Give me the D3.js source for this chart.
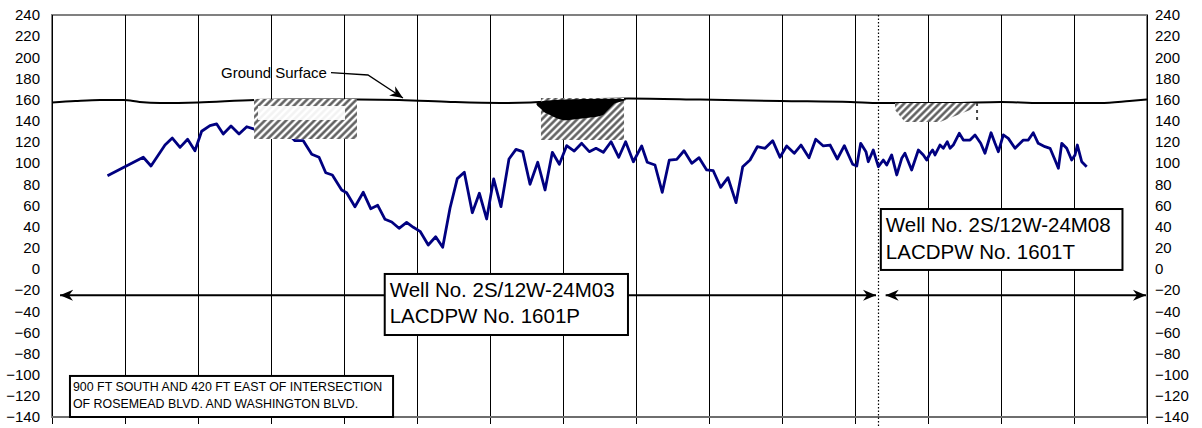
<!DOCTYPE html>
<html>
<head>
<meta charset="utf-8">
<script src="https://cdn.jsdelivr.net/npm/d3@7"></script>
<style>
  html, body { margin: 0; padding: 0; background: #fff; }
  svg { display: block; font-family: "Liberation Sans", Arial, sans-serif; }
</style>
</head>
<body>
<svg id="chart" width="1202" height="428"></svg>
<script>
// ---------------- DATA ----------------
// x in chart units (15 grid intervals of 5 units), y = elevation (ft)
const xGridTicks = d3.range(0, 76, 5);
const yTickValues = d3.range(-140, 241, 20);

const wellX = [3.8, 6.25, 6.78, 7.74, 8.24, 8.77, 9.29, 9.79, 10.25, 10.82, 11.28, 11.73, 12.26, 12.81, 13.34, 13.86,
  14.38, 14.93, 15.48, 16.1, 16.64, 17.21, 17.79, 18.29, 18.75, 19.2, 19.84, 20.18, 20.75, 21.32, 21.83, 22.31,
  22.81, 23.27, 23.77, 24.29, 24.75, 25.21, 25.77, 26.28, 26.76, 27.26, 27.76, 28.24, 28.79, 29.27, 29.77, 30.25,
  30.75, 31.3, 31.78, 32.24, 32.74, 33.27, 33.77, 34.27, 34.75, 35.25, 35.77, 36.28, 36.8, 37.26, 37.76, 38.29,
  38.82, 39.29, 39.82, 40.39, 40.77, 41.3, 41.8, 42.28, 42.79, 43.29, 43.82, 44.32, 44.84, 45.29, 45.8, 46.3,
  46.85, 47.31, 47.81, 48.31, 48.84, 49.36, 49.86, 50.32, 50.84, 51.3, 51.85, 52.31, 52.83, 53.29, 53.79, 54.27,
  54.84, 55.12, 55.39, 55.75, 55.91, 56.25, 56.6, 56.94, 57.17, 57.51, 57.86, 58.2, 58.42, 58.88, 59.34, 59.68,
  59.91, 60.14, 60.32, 60.48, 60.82, 61.05, 61.32, 61.51, 61.73, 62.14, 62.42, 62.88, 63.22, 63.61, 63.9, 64.32,
  64.59, 64.82, 65.16, 65.5, 65.96, 66.53, 66.87, 67.21, 67.55, 68.01, 68.36, 68.7, 68.93, 69.16, 69.5, 69.84,
  70.07, 70.23, 70.53, 70.87];
const wellLevel = [88, 105.5, 97.3, 117.1, 123.7, 114.9, 122.5, 111.7, 130.1, 135.4, 137, 127.5, 135.1, 127.5, 134.4, 132.2,
  134, 137, 133, 129, 121.2, 121.2, 108.3, 105.5, 90.9, 88.8, 74.6, 72, 58.8, 72.4, 56.9, 60.1,
  46.9, 44.3, 38.4, 44, 39.3, 35.5, 22.6, 30.4, 20.4, 57.3, 85.3, 91.3, 53.1, 71.5, 47.2, 85,
  58.8, 103.9, 113, 110.8, 80, 100.8, 74.6, 110.2, 98.9, 116.5, 111.4, 118.7, 110.8, 114, 110.2, 120.2,
  105.5, 120.2, 101.3, 116.2, 100.8, 98.2, 72.4, 102.9, 103.6, 111.7, 99.8, 105.1, 93.5, 92.8, 77.1, 86.2,
  62.6, 96.6, 102.9, 115.5, 114, 121.2, 105.5, 116.2, 109.3, 117.1, 105.1, 122.5, 116.2, 117.1, 103.9, 116.5,
  98.9, 97.3, 118.7, 110.8, 101.3, 112.4, 96.6, 102.9, 98.2, 107.7, 88.8, 104.5, 109.3, 93.5, 112.4, 107.7,
  102.9, 109.3, 112.4, 107.7, 117.1, 114, 120.2, 114, 117.1, 128.2, 121.8, 121.8, 126.6, 118.7, 109.3, 128.7,
  118.7, 110.8, 126.6, 123.4, 114, 121.8, 121.8, 128.7, 118.7, 115.5, 114, 102.9, 95.1, 118.7, 114, 102.9,
  107.7, 117.1, 101.3, 96.6];

const groundX = [0, 1.6, 3.3, 4.9, 6, 7.4, 10, 13.9, 17, 21, 23.8, 27.3, 30.7, 32.8, 34.8, 37.5, 39.5, 44.4, 49.9, 54.7, 56.7, 61.5, 65, 67.7, 71.8, 73.8, 75];
const groundLevel = [157.3, 158.7, 159.7, 159.7, 157.8, 156.8, 157.3, 159.7, 160.1, 160.1, 159.7, 157.8, 156.8, 157.3, 158.7, 160.6, 161.1, 160.1, 158.7, 157.8, 156.8, 156.8, 157.8, 156.8, 156.8, 158.7, 160.1];

// screened / hatched intervals
const hatchBoxes = [
  [[13.84, 160.6], [20.89, 160.6], [20.89, 122.8], [13.84, 122.8]],
  [[33.49, 161.5], [39.18, 161.5], [39.18, 121.8], [33.49, 121.8]],
  [[57.74, 156.8], [63.36, 156.8], [62.88, 150.2], [60.82, 138.9], [58.42, 138.9], [57.74, 150.2]]
];
const whiteStrip = [[14.11, 154.0], [20.07, 154.0], [20.07, 140.7], [14.11, 140.7]];
const blackBlob = [[33.63, 158.7], [39.04, 160.6], [38.49, 155.9], [38.01, 149.3], [37.53, 144.5], [35.96, 141.7], [35.0, 140.7], [34.11, 145.5], [33.56, 150.2]];
const dashedEdge = [[63.36, 156.8], [63.36, 138.0]];

const dividerX = 56.55;
const rangeArrows = [ [0.55, 56.44, -25], [57.1, 74.93, -25] ];

const groundLabel = "Ground Surface";
const groundLeader = [[19.11, 185.5], [21.64, 183.3], [24.04, 161.5]];
const groundLabelPos = [11.58, 180.4];

const wellBoxes = [
  { x1: 22.79, x2: 39.45, yTop: -4.8, yBot: -62.5, lines: ["Well No. 2S/12W-24M03", "LACDPW No. 1601P"] },
  { x1: 56.77, x2: 73.32, yTop: 56.6, yBot: -1.0, lines: ["Well No. 2S/12W-24M08", "LACDPW No. 1601T"] }
];
const locBox = { x1: 1.23, x2: 23.36, yTop: -101.2, yBot: -140,
  lines: ["900 FT SOUTH AND 420 FT EAST OF INTERSECTION", "OF ROSEMEAD BLVD. AND WASHINGTON BLVD."] };

// ---------------- CHART ----------------
const svg = d3.select("#chart");
const L = 52, R = 1147, T = 15, B = 417;
const x = d3.scaleLinear().domain([0, 75]).range([L, R]);
const y = d3.scaleLinear().domain([-140, 240]).range([B, T]);
const crisp = v => Math.round(v) + 0.5;

const defs = svg.append("defs");
const pat = defs.append("pattern").attr("id", "hatch").attr("patternUnits", "userSpaceOnUse")
  .attr("width", 5).attr("height", 5).attr("patternTransform", "rotate(45)");
pat.append("rect").attr("width", 5).attr("height", 5).attr("fill", "#fff");
pat.append("line").attr("x1", 2.5).attr("x2", 2.5).attr("y1", 0).attr("y2", 5)
  .attr("stroke", "#555").attr("stroke-width", 2.4);

function arrowMarker(id) {
  defs.append("marker").attr("id", id).attr("viewBox", "0 -6 14 12")
    .attr("refX", 13).attr("refY", 0).attr("markerWidth", 14).attr("markerHeight", 12)
    .attr("markerUnits", "userSpaceOnUse").attr("orient", "auto-start-reverse")
    .append("path").attr("d", "M0,-5.5 L13,0 L0,5.5 L4,0 Z").attr("fill", "#000");
}
arrowMarker("arr");

// plot frame
svg.append("rect").attr("x", L).attr("y", T).attr("width", R - L).attr("height", B - T)
  .attr("fill", "none").attr("stroke", "#808080").attr("stroke-width", 2);

// vertical gridlines (extending as ticks below the axis)
svg.append("g").selectAll("line").data(xGridTicks).join("line")
  .attr("x1", d => crisp(x(d))).attr("x2", d => crisp(x(d))).attr("y1", T).attr("y2", B + 7)
  .attr("stroke", "#000").attr("stroke-width", 1);

// bottom axis line
svg.append("line").attr("x1", L).attr("x2", R).attr("y1", B).attr("y2", B)
  .attr("stroke", "#6e6e6e").attr("stroke-width", 2);

// y axis labels left & right
const yl = d3.axisLeft(y).tickValues(yTickValues).tickSize(0).tickPadding(12);
const gL = svg.append("g").attr("transform", `translate(${L},0)`).call(yl);
gL.select(".domain").remove();
gL.selectAll("text").attr("font-size", 15).attr("font-family", "Liberation Sans, Arial, sans-serif").attr("fill", "#000");
const yr = d3.axisRight(y).tickValues(yTickValues).tickSize(0).tickPadding(8);
const gR = svg.append("g").attr("transform", `translate(${R},0)`).call(yr);
gR.select(".domain").remove();
gR.selectAll("text").attr("font-size", 15).attr("font-family", "Liberation Sans, Arial, sans-serif").attr("fill", "#000");

// divider (dotted)
svg.append("line").attr("x1", crisp(x(dividerX))).attr("x2", crisp(x(dividerX))).attr("y1", T).attr("y2", 428)
  .attr("stroke", "#000").attr("stroke-width", 1.2).attr("stroke-dasharray", "1.5,2");

// ground surface
const gline = d3.line().x((d, i) => x(groundX[i])).y(d => y(d)).curve(d3.curveMonotoneX);
svg.append("path").attr("d", gline(groundLevel)).attr("fill", "none")
  .attr("stroke", "#000").attr("stroke-width", 2);

// water level
const wline = d3.line().x((d, i) => x(wellX[i])).y(d => y(d));
svg.append("path").attr("d", wline(wellLevel)).attr("fill", "none")
  .attr("stroke", "#000080").attr("stroke-width", 2.8).attr("stroke-linejoin", "round");

// hatched screens
const poly = d3.line().x(d => x(d[0])).y(d => y(d[1]));
svg.append("g").selectAll("path").data(hatchBoxes).join("path")
  .attr("d", d => poly(d) + "Z").attr("fill", "url(#hatch)").attr("stroke", "none");
svg.append("path").attr("d", poly(whiteStrip) + "Z").attr("fill", "#fff").attr("opacity", 0.92);
svg.append("path").attr("d", d3.line().x(d => x(d[0])).y(d => y(d[1])).curve(d3.curveCardinalClosed)(blackBlob))
  .attr("fill", "#000");
svg.append("path").attr("d", poly(dashedEdge)).attr("stroke", "#444").attr("stroke-width", 2)
  .attr("stroke-dasharray", "3,4");

// range arrows
svg.append("g").selectAll("line").data(rangeArrows).join("line")
  .attr("x1", d => x(d[0])).attr("x2", d => x(d[1])).attr("y1", d => y(d[2])).attr("y2", d => y(d[2]))
  .attr("stroke", "#000").attr("stroke-width", 2)
  .attr("marker-start", "url(#arr)").attr("marker-end", "url(#arr)");

// ground surface label + leader
svg.append("text").attr("x", x(groundLabelPos[0])).attr("y", y(groundLabelPos[1]))
  .attr("font-size", 15).attr("fill", "#000").text(groundLabel);
svg.append("path").attr("d", poly(groundLeader)).attr("fill", "none").attr("stroke", "#000")
  .attr("stroke-width", 1.3).attr("marker-end", "url(#arr)");

// well boxes
wellBoxes.forEach(b => {
  svg.append("rect").attr("x", x(b.x1)).attr("y", y(b.yTop)).attr("width", x(b.x2) - x(b.x1))
    .attr("height", y(b.yBot) - y(b.yTop)).attr("fill", "#fff").attr("stroke", "#000").attr("stroke-width", 2);
  b.lines.forEach((t, i) => {
    svg.append("text").attr("x", x(b.x1) + 5).attr("y", y(b.yTop) + 23 + i * 26.5)
      .attr("font-size", 20.5).attr("fill", "#000").text(t);
  });
});

// location box
svg.append("rect").attr("x", x(locBox.x1)).attr("y", y(locBox.yTop)).attr("width", x(locBox.x2) - x(locBox.x1))
  .attr("height", y(locBox.yBot) - y(locBox.yTop)).attr("fill", "#fff").attr("stroke", "#000").attr("stroke-width", 2);
locBox.lines.forEach((t, i) => {
  svg.append("text").attr("x", x(locBox.x1) + 3).attr("y", y(locBox.yTop) + 15.5 + i * 16.5)
    .attr("font-size", 12.4).attr("fill", "#000").text(t);
});
</script>
</body>
</html>
